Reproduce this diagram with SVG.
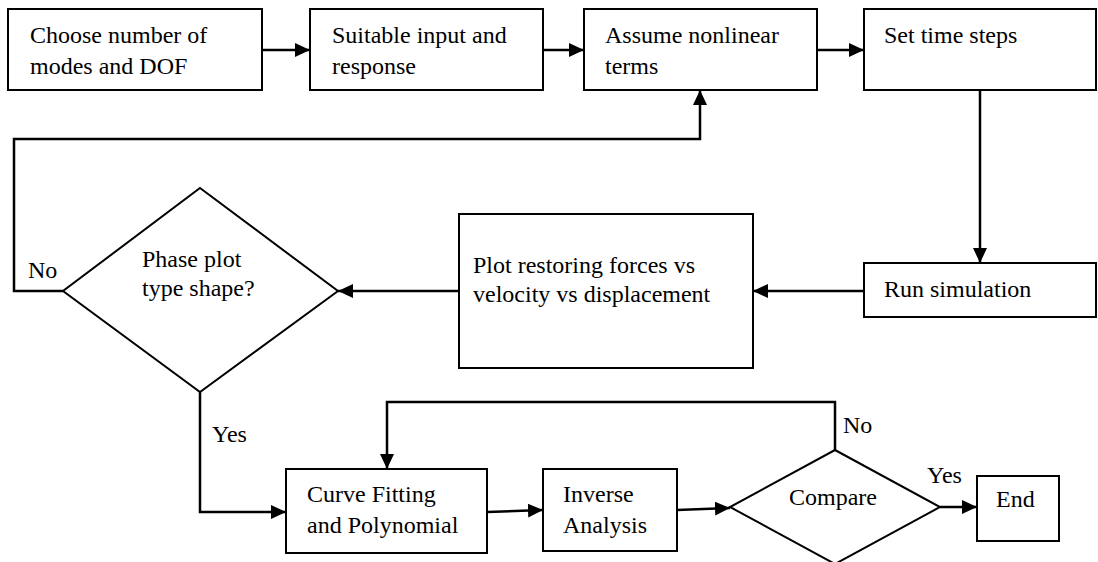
<svg xmlns="http://www.w3.org/2000/svg" width="1098" height="562" viewBox="0 0 1098 562">
<defs>
<marker id="ah" markerWidth="15" markerHeight="14" refX="15" refY="7" orient="auto" markerUnits="userSpaceOnUse">
<path d="M0,0 L15,7 L0,14 z" fill="#000"/>
</marker>
<style>
.box{fill:#fff;stroke:#000;stroke-width:2}
.t{font-family:"Liberation Serif","Times New Roman",serif;font-size:24px;fill:#000}
.c{fill:none;stroke:#000;stroke-width:2.5}
</style>
</defs>
<rect width="1098" height="562" fill="#fff"/>
<g id="connectors">
<line class="c" x1="262" y1="50" x2="310" y2="50" marker-end="url(#ah)"/>
<line class="c" x1="543" y1="50" x2="584" y2="50" marker-end="url(#ah)"/>
<line class="c" x1="817" y1="50" x2="864" y2="50" marker-end="url(#ah)"/>
<line class="c" x1="980" y1="90" x2="980" y2="263" marker-end="url(#ah)"/>
<line class="c" x1="864" y1="291" x2="753" y2="291" marker-end="url(#ah)"/>
<line class="c" x1="459" y1="291" x2="338" y2="291" marker-end="url(#ah)"/>
<polyline class="c" points="63,291 14,291 14,139 700,139 700,90" marker-end="url(#ah)"/>
<polyline class="c" points="200,392 200,512 286,512" marker-end="url(#ah)"/>
<line class="c" x1="487" y1="512" x2="543" y2="510" marker-end="url(#ah)"/>
<line class="c" x1="677" y1="510" x2="730" y2="508" marker-end="url(#ah)"/>
<polyline class="c" points="835,450 835,402 387,402 387,469" marker-end="url(#ah)"/>
<line class="c" x1="940" y1="507" x2="977" y2="507" marker-end="url(#ah)"/>
<text class="t" x="28" y="278">No</text>
<text class="t" x="212" y="442">Yes</text>
<text class="t" x="843" y="433">No</text>
<text class="t" x="927" y="483">Yes</text>
</g>
<g id="n1"><rect class="box" x="8" y="9" width="254" height="81"/><text class="t" x="30" y="43">Choose number of</text><text class="t" x="30" y="74">modes and DOF</text></g>
<g id="n2"><rect class="box" x="310" y="9" width="233" height="81"/><text class="t" x="332" y="43">Suitable input and</text><text class="t" x="332" y="74">response</text></g>
<g id="n3"><rect class="box" x="584" y="9" width="233" height="81"/><text class="t" x="605" y="43">Assume nonlinear</text><text class="t" x="605" y="74">terms</text></g>
<g id="n4"><rect class="box" x="864" y="9" width="232" height="81"/><text class="t" x="884" y="43">Set time steps</text></g>
<g id="n5"><rect class="box" x="864" y="263" width="232" height="54"/><text class="t" x="884" y="297">Run simulation</text></g>
<g id="n6"><rect class="box" x="459" y="214" width="294" height="154"/><text class="t" x="473" y="273">Plot restoring forces vs</text><text class="t" x="473" y="302">velocity vs displacement</text></g>
<g id="n7"><polygon class="box" points="200,188 338,291 200,392 63,291"/><text class="t" x="142" y="267">Phase plot</text><text class="t" x="142" y="296">type shape?</text></g>
<g id="n8"><rect class="box" x="286" y="469" width="201" height="84"/><text class="t" x="307" y="502">Curve Fitting</text><text class="t" x="307" y="533">and Polynomial</text></g>
<g id="n9"><rect class="box" x="543" y="469" width="134" height="82"/><text class="t" x="563" y="502">Inverse</text><text class="t" x="563" y="533">Analysis</text></g>
<g id="n10"><polygon class="box" points="835,450 940,507 835,564 730,507"/><text class="t" x="833" y="505" text-anchor="middle">Compare</text></g>
<g id="n11"><rect class="box" x="977" y="476" width="82" height="65"/><text class="t" x="996" y="507">End</text></g>
</svg>
